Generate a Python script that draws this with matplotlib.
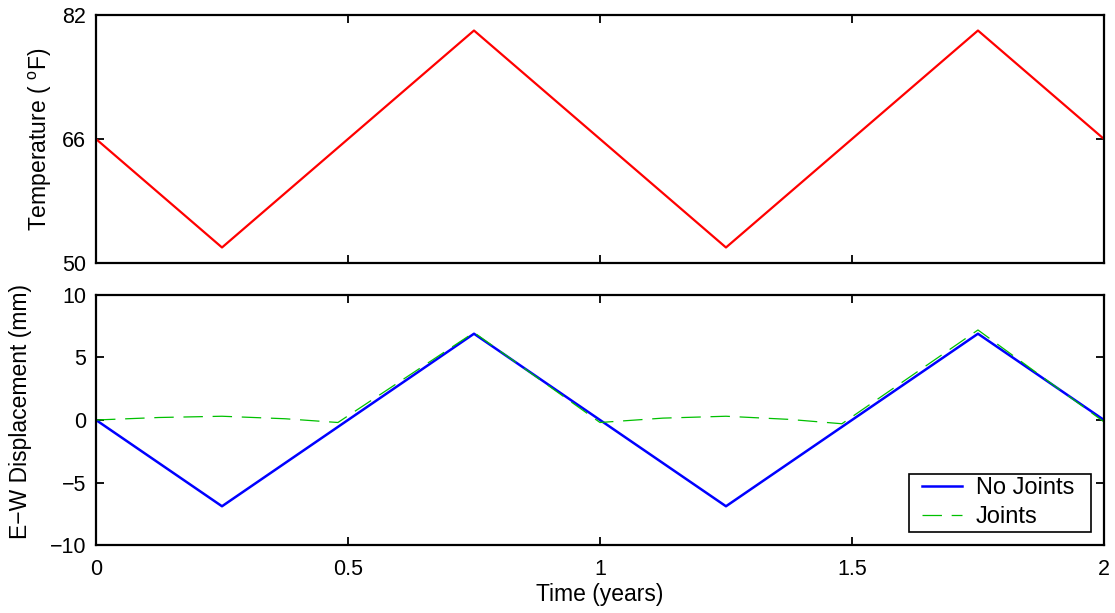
import numpy as np
import matplotlib
matplotlib.use('Agg')
import matplotlib.pyplot as plt
from matplotlib.legend_handler import HandlerLine2D

# Temperature cycle (deg F) at turning points
temp_t = [0, 0.25, 0.75, 1.25, 1.75, 2.0]
temp_f = [66, 52, 80, 52, 80, 66]

# E-W displacement, no joints
nojoint_t = [0, 0.25, 0.75, 1.25, 1.75, 2.0]
nojoint_mm = [0, -6.9, 6.9, -6.9, 6.9, 0]

# E-W displacement, with joints
joint_t = [0, 0.125, 0.25, 0.375, 0.48, 0.75, 1.0, 1.125, 1.25, 1.375, 1.48, 1.75, 2.0]
joint_mm = [0, 0.2, 0.3, 0.1, -0.2, 7.0, -0.2, 0.15, 0.3, 0.05, -0.3, 7.2, -0.15]

plt.rcParams['font.family'] = ['Liberation Sans', 'DejaVu Sans']
plt.rcParams['lines.scale_dashes'] = False

fig = plt.figure(figsize=(11.15, 6.13), dpi=100)
ax1 = fig.add_axes([0.0861, 0.571, 0.904, 0.4045])
ax2 = fig.add_axes([0.0861, 0.1109, 0.904, 0.4079])

ax1.plot(temp_t, temp_f, color='#ff0000', lw=1.6)
ax1.set_xlim(0, 2)
ax1.set_ylim(50, 82)
ax1.set_yticks([50, 66, 82])
ax1.set_xticks([0, 0.5, 1, 1.5, 2])
ax1.set_xticklabels([])
ax1.set_ylabel('Temperature ( $\\mathregular{^oF}$)', fontsize=16.5, labelpad=6)

l1, = ax2.plot(nojoint_t, nojoint_mm, color='#0000ff', lw=1.8, label='No Joints  ')
l2, = ax2.plot(joint_t, joint_mm, color='#00c000', lw=0.9, dashes=(14, 7), label='Joints')
ax2.set_xlim(0, 2)
ax2.set_ylim(-10, 10)
ax2.set_yticks([-10, -5, 0, 5, 10])
ax2.set_xticks([0, 0.5, 1, 1.5, 2])
ax2.set_xticklabels(['0', '0.5', '1', '1.5', '2'])
ax2.set_xlabel('Time (years)', fontsize=16.5, labelpad=2)
ax2.set_ylabel('E\u2212W Displacement (mm)', fontsize=16.5)
ax2.yaxis.set_label_coords(-0.0635, 0.535)

# inset the legend lines a little so the box has more room on the left
hmap = {l1: HandlerLine2D(xpad=0.4), l2: HandlerLine2D(xpad=0.4)}
leg = ax2.legend(loc='lower right', fontsize=17, frameon=True, fancybox=False,
                 edgecolor='black', framealpha=1, handlelength=2.1,
                 handletextpad=0.6, borderpad=0.15, labelspacing=0.3,
                 borderaxespad=0.55, handler_map=hmap)
leg.get_frame().set_linewidth(1.2)

for ax in (ax1, ax2):
    for s in ax.spines.values():
        s.set_linewidth(1.6)
    ax.tick_params(direction='in', length=6, width=1.3, top=True, right=True,
                   labelsize=15.5, pad=7)
ax2.tick_params(axis='x', pad=10)

fig.savefig('out.png', dpi=100)
